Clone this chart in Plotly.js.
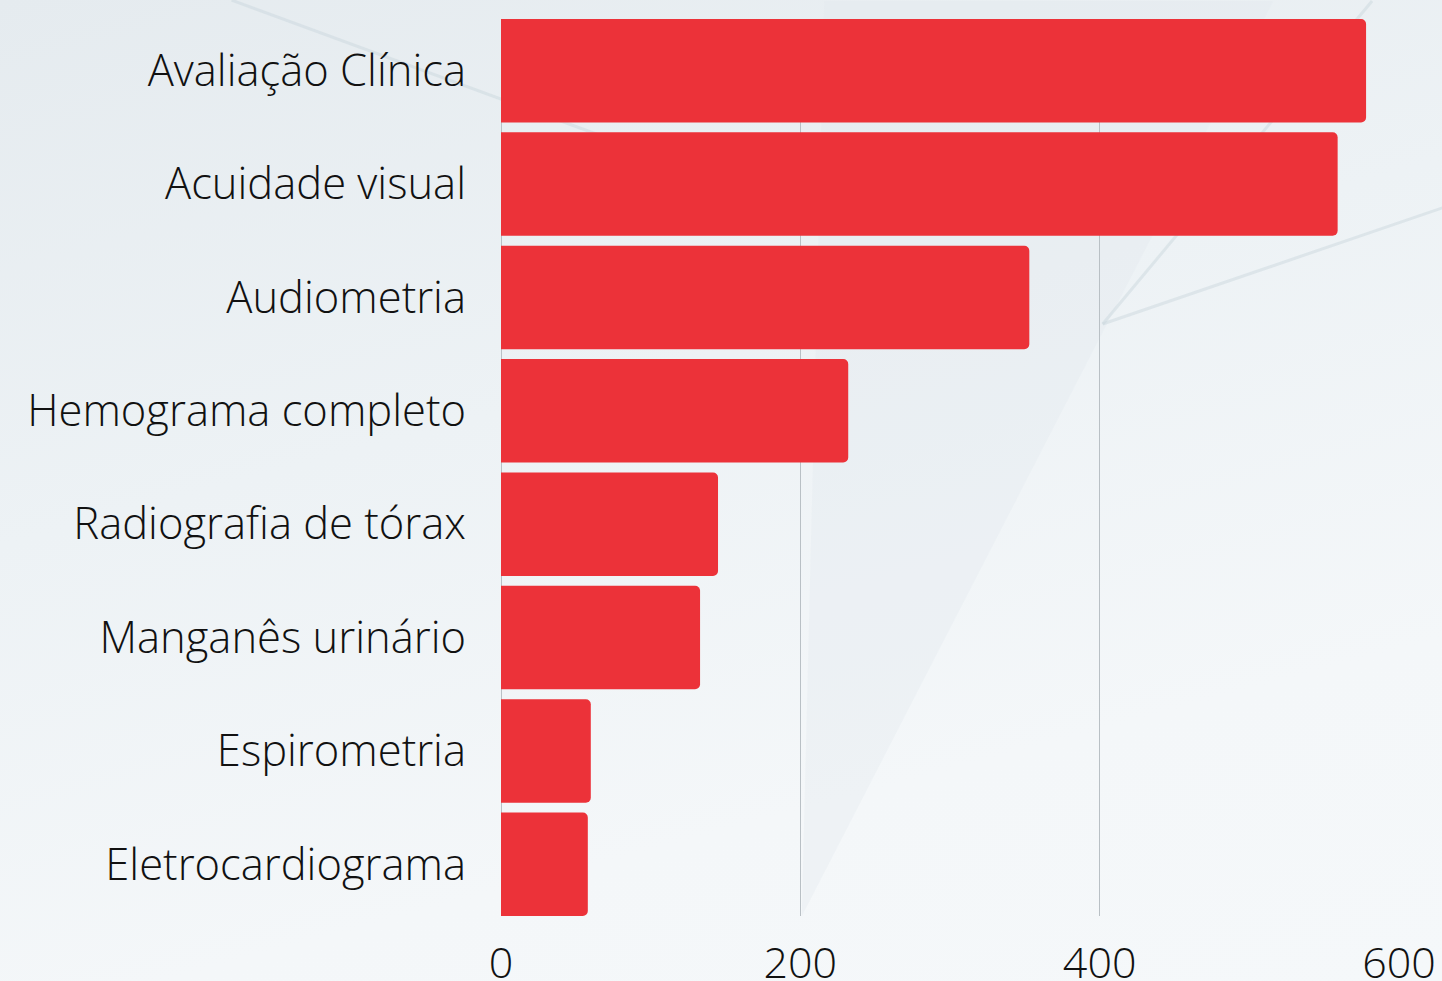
<!DOCTYPE html>
<html>
<head>
<meta charset="utf-8">
<script src="https://cdn.plot.ly/plotly-3.0.1.min.js"></script>
<style>
html,body{margin:0;padding:0;}
body{background:linear-gradient(165deg,#e5ebef 0%,#edf2f5 40%,#f4f7f9 75%,#f5f8fa 100%);}
#chart{width:1442px;height:981px;}
</style>
</head>
<body>
<div id="chart"></div>
<script>
const categories = ["Avaliação Clínica","Acuidade visual","Audiometria","Hemograma completo","Radiografia de tórax","Manganês urinário","Espirometria","Eletrocardiograma"];
const values = [578, 559, 353, 232, 145, 133, 60, 58];
const xTickVals = [0, 200, 400, 600];
const xTickText = ["0", "200", "400", "600"];

const trace = {
  type: "bar",
  orientation: "h",
  y: categories,
  x: values,
  marker: {color: "#ec3239"},
  hoverinfo: "x+y"
};

const gap = 0.088;
const faint = "rgba(200,212,220,0.45)";
const layout = {
  width: 1442,
  height: 981,
  margin: {l: 501, r: 43, t: 19, b: 65},
  paper_bgcolor: "rgba(0,0,0,0)",
  plot_bgcolor: "rgba(0,0,0,0)",
  font: {family: "Open Sans, sans-serif", color: "#111111", weight: 300},
  bargap: gap,
  barcornerradius: 5,
  showlegend: false,
  shapes: [
    {type: "path", xref: "paper", yref: "paper", layer: "below",
     path: "M 0.335 0.0 L 0.86 1.02 L 0.36 1.02 Z", fillcolor: "rgba(225,232,237,0.35)", line: {width: 0}},
    {type: "line", xref: "paper", yref: "paper", layer: "below", x0: -0.30, y0: 1.021, x1: 0.22, y1: 0.83, line: {color: faint, width: 3}},
    {type: "line", xref: "paper", yref: "paper", layer: "below", x0: 0.67, y0: 0.66, x1: 1.05, y1: 0.79, line: {color: faint, width: 3}},
    {type: "line", xref: "paper", yref: "paper", layer: "below", x0: 0.67, y0: 0.66, x1: 0.97, y1: 1.02, line: {color: faint, width: 3}}
  ],
  xaxis: {
    range: [0, 600],
    tickvals: xTickVals,
    ticktext: xTickText,
    showgrid: true,
    gridcolor: "#b9c0c5",
    gridwidth: 1,
    zeroline: true,
    zerolinecolor: "#b9c0c5",
    zerolinewidth: 1,
    showline: false,
    ticks: "",
    tickfont: {size: 43, family: "Open Sans, sans-serif", color: "#111111", weight: 300},
    ticklabelstandoff: 18,
    fixedrange: true
  },
  yaxis: {
    range: [categories.length - 0.5 - gap / 2, -0.5 + gap / 2],
    autorange: false,
    showgrid: false,
    zeroline: false,
    showline: false,
    ticks: "",
    tickfont: {size: 43.5, family: "Open Sans, sans-serif", color: "#111111", weight: 300},
    ticklabelstandoff: 34,
    fixedrange: true
  }
};

Plotly.newPlot("chart", [trace], layout, {displayModeBar: false, staticPlot: true});
</script>
</body>
</html>
